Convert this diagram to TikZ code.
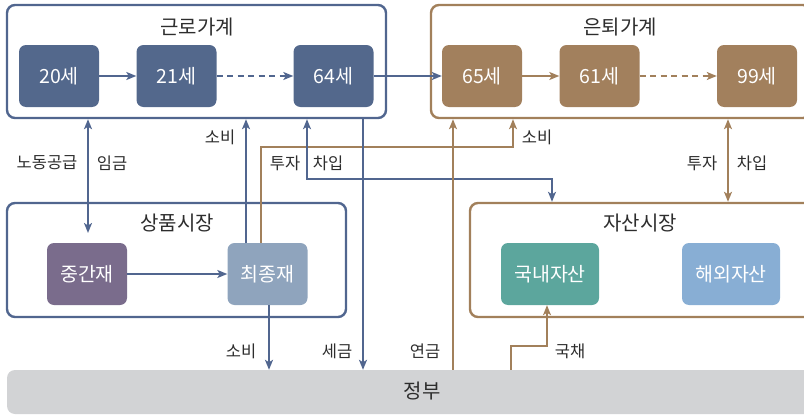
\documentclass[tikz,border=0pt]{standalone}
\usepackage{fontspec}
\setmainfont{Noto Sans CJK KR}
\usetikzlibrary{arrows.meta}
\definecolor{cblue}{RGB}{81,102,143}
\definecolor{bfill}{RGB}{83,104,140}
\definecolor{cbrown}{RGB}{162,128,91}
\definecolor{brfill}{RGB}{162,128,93}
\definecolor{cpurple}{RGB}{122,108,140}
\definecolor{cfinal}{RGB}{143,164,189}
\definecolor{cteal}{RGB}{92,166,157}
\definecolor{cltblue}{RGB}{136,174,212}
\definecolor{cgray}{RGB}{210,211,213}
\definecolor{ctext}{RGB}{45,45,45}
\tikzset{
  outerbox/.style={draw, line width=2.4pt, rounded corners=8pt, inner sep=0pt},
  inbox/.style={rounded corners=7pt, minimum width=80pt, minimum height=62pt, inner sep=0pt, text=white, font=\fontsize{19.5}{21}\selectfont},
  ttl/.style={text=ctext, font=\fontsize{20}{22}\selectfont, inner sep=0pt},
  lbl/.style={text=ctext, font=\fontsize{16.5}{18}\selectfont, inner sep=0pt},
  arr/.style={line width=2pt, -{Stealth[length=10pt,width=8pt,inset=2.5pt]}},
  darr/.style={line width=2pt, {Stealth[length=10pt,width=8pt,inset=2.5pt]}-{Stealth[length=10pt,width=8pt,inset=2.5pt]}},
  tarr/.style={line width=1.2pt, -{Stealth[length=10pt,width=8pt,inset=2.5pt]}},
  tdarr/.style={line width=1.2pt, {Stealth[length=10pt,width=8pt,inset=2.5pt]}-{Stealth[length=10pt,width=8pt,inset=2.5pt]}},
  dsh/.style={dash pattern=on 6pt off 4.5pt}
}
\begin{document}
\begin{tikzpicture}[x=1pt,y=-1pt]
\useasboundingbox (0,0) rectangle (804,415);
\clip (0,0) rectangle (804,415);
% government bar
\node[fill=cgray, rounded corners=8pt, minimum width=805pt, minimum height=44pt, inner sep=0pt] (gov) at (409.5,392) {};
\node[ttl] (govT) at (422,391) {정부};
% outer boxes
\node[outerbox, draw=cblue, minimum width=379pt, minimum height=113pt] (wh) at (196.5,61.5) {};
\node[outerbox, draw=cbrown, minimum width=380pt, minimum height=113pt] (rh) at (621,61.5) {};
\node[outerbox, draw=cblue, minimum width=339pt, minimum height=114pt] (gm) at (176.5,260) {};
\node[outerbox, draw=cbrown, minimum width=342pt, minimum height=114pt] (am) at (641,260) {};
% titles
\node[ttl] (whT) at (197,27) {근로가계};
\node[ttl] (rhT) at (620,27) {은퇴가계};
\node[ttl] (gmT) at (177,223) {상품시장};
\node[ttl] (amT) at (640,223) {자산시장};
% inner boxes
\node[inbox, fill=bfill] (a20) at (59,76) {20세};
\node[inbox, fill=bfill] (a21) at (176.5,76) {21세};
\node[inbox, fill=bfill] (a64) at (333.5,76) {64세};
\node[inbox, fill=brfill] (a65) at (482,76) {65세};
\node[inbox, fill=brfill] (a61) at (599.5,76) {61세};
\node[inbox, fill=brfill] (a99) at (757,76) {99세};
\node[inbox, fill=cpurple] (mid) at (87,274) {중간재};
\node[inbox, fill=cfinal] (fin) at (267.5,274) {최종재};
\node[inbox, fill=cteal, minimum width=98pt] (dom) at (550,274) {국내자산};
\node[inbox, fill=cltblue, minimum width=98pt] (frn) at (731,274) {해외자산};
% age arrows
\draw[arr, cblue] (a20) -- (a21);
\draw[arr, cblue, dsh, line width=1.4pt] (a21) -- (a64);
\draw[arr, cblue] (a64) -- (a65);
\draw[arr, cbrown] (a65) -- (a61);
\draw[arr, cbrown, dsh, line width=1.4pt] (a61) -- (a99);
\draw[arr, cblue] (mid) -- (fin);
% flows
\coordinate (lsEnd) at (88,233);
\draw[darr, cblue] (wh.south -| lsEnd) -- (lsEnd);
\draw[arr, cblue] (fin.north -| 246,0) -- (wh.south -| 246,0);
\draw[tarr, cbrown] (fin.north -| 261,0) |- (513,147) -- (rh.south -| 513,0);
\draw[tdarr, cblue] (wh.south -| 307,0) -- (307,179) -| (am.north -| 552,0);
\draw[arr, cblue] (wh.south -| 363,0) -- (gov.north -| 363,0);
\draw[arr, cblue] (fin.south -| 269,0) -- (gov.north -| 269,0);
\draw[arr, cbrown] (gov.north -| 453,0) -- (rh.south -| 453,0);
\draw[tarr, cbrown] (gov.north -| 511,0) |- (547,346) -- (dom.south -| 547,0);
\draw[darr, cbrown] (rh.south -| 728,0) -- (am.north -| 728,0);
% labels
\node[lbl] (l1) at (47,163) {노동공급};
\node[lbl] (l2) at (112,163) {임금};
\node[lbl] (l3) at (220,137) {소비};
\node[lbl] (l4) at (285,163) {투자};
\node[lbl] (l5) at (328,163) {차입};
\node[lbl] (l6) at (537,137) {소비};
\node[lbl] (l7) at (702,163) {투자};
\node[lbl] (l8) at (752,163) {차입};
\node[lbl] (l9) at (241,351) {소비};
\node[lbl] (l10) at (337,351) {세금};
\node[lbl] (l11) at (425,351) {연금};
\node[lbl] (l12) at (570,351) {국채};
\end{tikzpicture}
\end{document}
